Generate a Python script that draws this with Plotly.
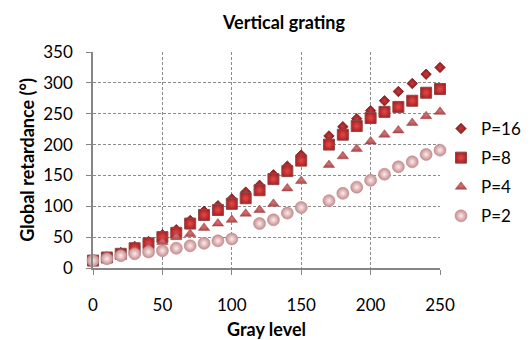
import plotly.graph_objects as go

gray_level = [0, 10, 20, 30, 40, 50, 60, 70, 80, 90, 100, 110, 120, 130, 140, 150,
              170, 180, 190, 200, 210, 220, 230, 240, 250]

p16 = [13, 18, 25, 35, 43, 54, 62, 77, 92, 101, 112, 123, 134, 151, 165, 183,
       214, 229, 242, 255, 271, 286, 299, 314, 325]
p8 = [12, 17, 23, 32, 40, 50, 57, 72, 86, 94, 104, 113, 126, 144, 157, 174,
      200, 216, 230, 243, 253, 261, 271, 284, 290]
p4 = [11, 14, 19, 25, 33, 42, 50, 55, 65, 72, 78, 88, 94, 104, 129, 141,
      167, 181, 193, 205, 216, 223, 235, 246, 253]
p2 = [12, 15, 20, 23, 26, 28, 32, 36, 40, 44, 47, None, 72, 78, 89, 98,
      109, 121, 131, 142, 152, 164, 172, 184, 191]

series_names = ["P=16", "P=8", "P=4", "P=2"]

FONT = "Lato"

# plot area in pixels
L, R, T, B = 93, 440, 52, 268
W, H = 530, 340

fig = go.Figure()

fig.add_trace(go.Scatter(
    x=gray_level, y=p16, name=series_names[0], mode="markers", legendgroup="a",
    cliponaxis=False,
    marker=dict(symbol="diamond", size=8, color="#8e1a1c",
                gradient=dict(type="radial", color="#c43a3c"),
                line=dict(color="#7a1416", width=0.8))))
fig.add_trace(go.Scatter(
    x=gray_level, y=p8, name=series_names[1], mode="markers", legendgroup="b",
    cliponaxis=False,
    marker=dict(symbol="square", size=11, color="#b02224",
                gradient=dict(type="radial", color="#e44a4a"),
                line=dict(color="#8a4a4a", width=1))))
fig.add_trace(go.Scatter(
    x=gray_level, y=p4, name=series_names[2], mode="markers", legendgroup="c",
    cliponaxis=False,
    marker=dict(symbol="triangle-up", size=10, color="#b24a4c",
                gradient=dict(type="radial", color="#d07072"),
                line=dict(color="#a04446", width=0.5))))
fig.add_trace(go.Scatter(
    x=gray_level, y=p2, name=series_names[3], mode="markers", legendgroup="d",
    cliponaxis=False,
    marker=dict(symbol="circle", size=12, color="#c88c8e",
                gradient=dict(type="radial", color="#fbecec"),
                line=dict(color="#b98a8a", width=0.6))))

fig.update_layout(
    width=W, height=H,
    margin=dict(l=L, r=W - R, t=T, b=H - B, autoexpand=False),
    paper_bgcolor="white", plot_bgcolor="white",
    font=dict(family=FONT, size=17, color="#000000"),
    title=dict(text="<b>Vertical grating</b>", x=284 / W, xanchor="center",
               y=1 - 23 / H, yanchor="middle", font=dict(size=18, family=FONT)),
    showlegend=True,
    legend=dict(xref="container", yref="container",
                x=441 / W, xanchor="left",
                y=1 - 111 / H, yanchor="top",
                font=dict(size=17, family=FONT), tracegroupgap=4,
                traceorder="grouped", bgcolor="rgba(0,0,0,0)",
                itemwidth=30),
)

fig.update_xaxes(
    range=[0, 250], tickvals=[0, 50, 100, 150, 200, 250], automargin=False,
    showgrid=True, gridcolor="#8c8c8c", griddash="3px,2px", gridwidth=1,
    showline=True, linecolor="#868686", linewidth=1.5,
    ticks="outside", ticklen=5, tickcolor="#868686",
    ticklabelstandoff=16, zeroline=False,
    tickfont=dict(size=17, family=FONT),
    title=dict(text="<b>Gray level</b>", standoff=10, font=dict(size=18, family=FONT)),
)
fig.update_yaxes(
    range=[0, 350], tickvals=[0, 50, 100, 150, 200, 250, 300, 350], automargin=False,
    showgrid=True, gridcolor="#8c8c8c", griddash="3px,2px", gridwidth=1,
    showline=True, linecolor="#868686", linewidth=1.5,
    ticks="outside", ticklen=5, tickcolor="#868686",
    ticklabelstandoff=10, zeroline=False,
    tickfont=dict(size=17, family=FONT),
    title=dict(text="<b>Global retardance (°)</b>", standoff=4,
               font=dict(size=18, family=FONT)),
)

fig.write_html("out.html")
